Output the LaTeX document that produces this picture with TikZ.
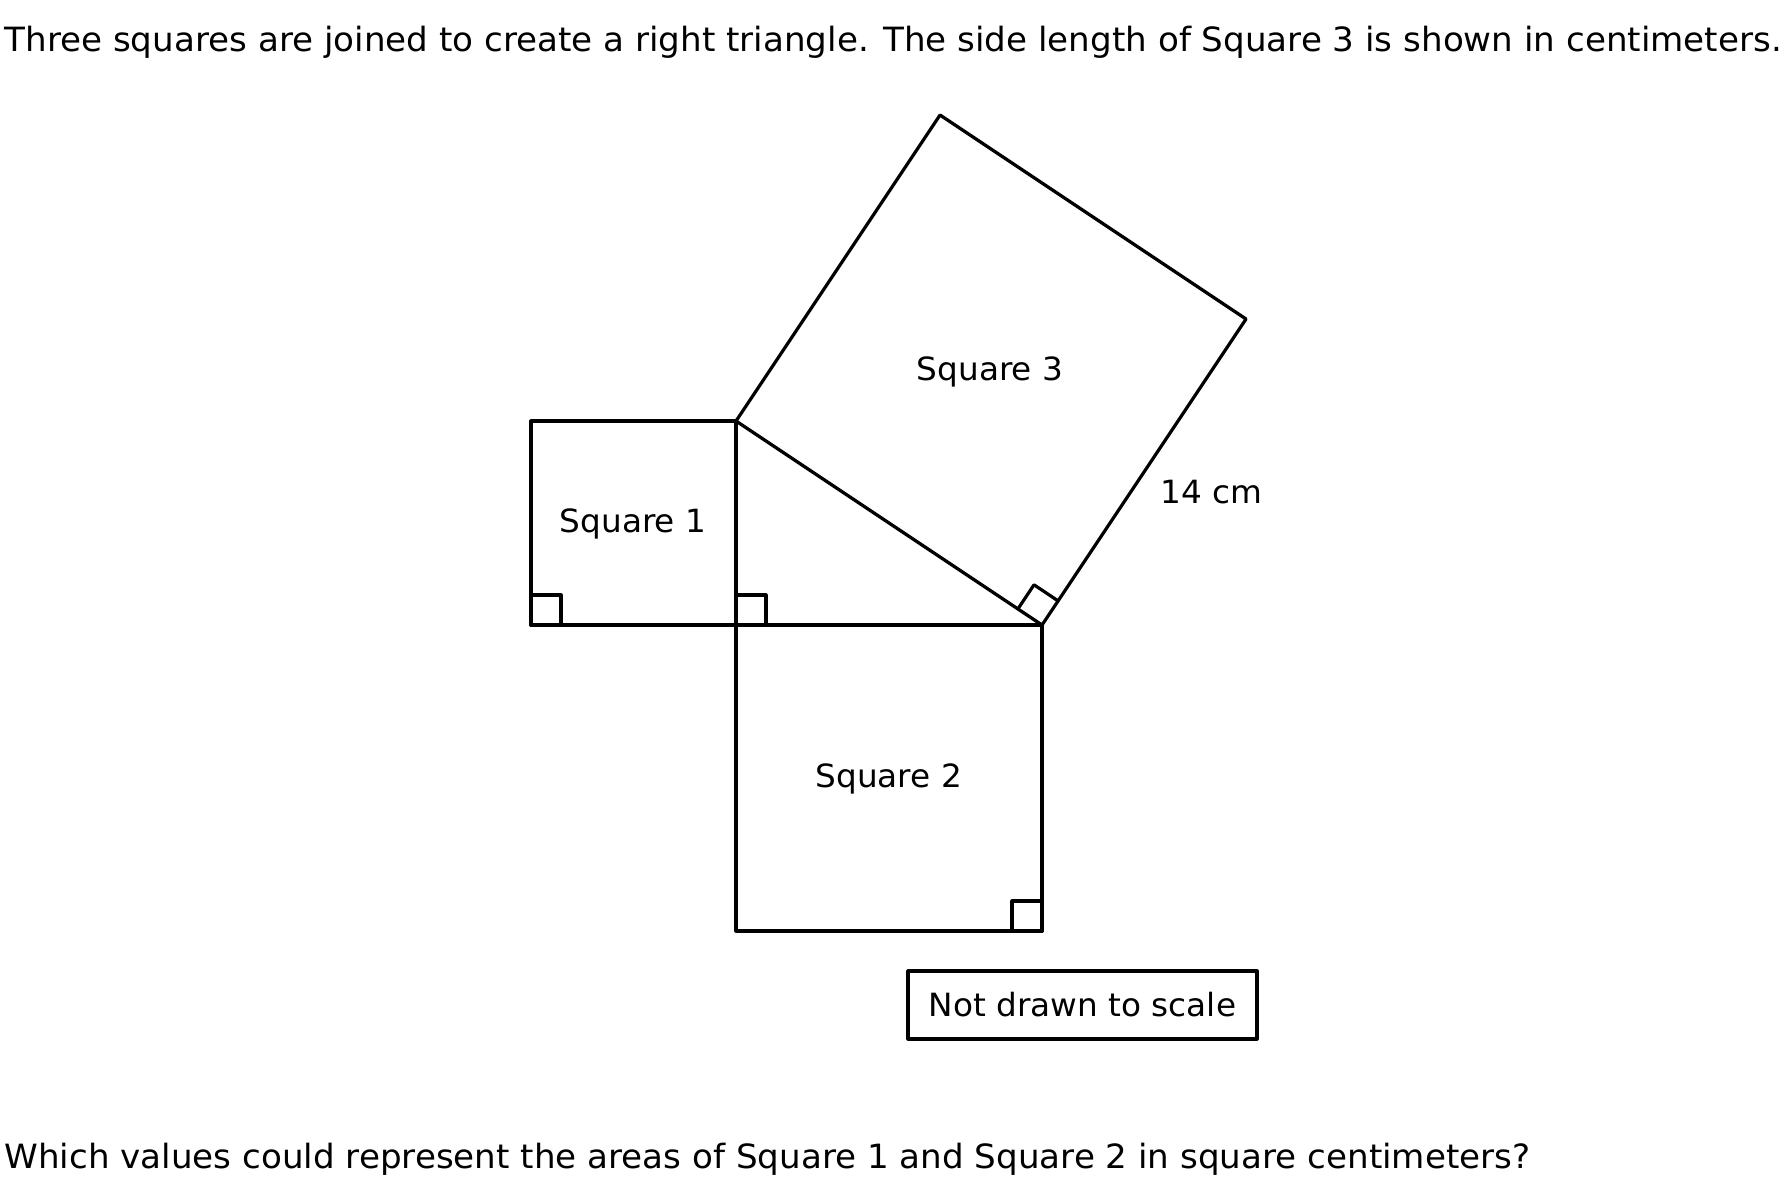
\documentclass[tikz,border=0pt]{standalone}
\usepackage{fontspec}
\setmainfont{DejaVu Sans}[FakeStretch=1.022]
\usetikzlibrary{calc}

\begin{document}
\begin{tikzpicture}[line cap=round,line join=round,x=0.5pt,y=-0.5pt,line width=1.6pt,
  label/.style={font=\fontsize{16}{19}\selectfont},
  textline/.style={font=\fontsize{16.7}{20}\selectfont,anchor=base west,inner sep=0pt}]
\useasboundingbox (0,0) rectangle (1788,1184);
% corners of the triangle
\coordinate (A) at (736,421);
\coordinate (C) at (736,625);
\coordinate (B) at (1042,625);
\coordinate (P) at (531,421);
\coordinate (Q) at (531,625);
\coordinate (D) at (1042,931);
\coordinate (E) at ($(B)+(204,-306)$);
\coordinate (F) at ($(A)+(204,-306)$);
% squares
\draw (P) rectangle (C);
\draw (C) rectangle (D);
\draw (A) -- (B) -- (E) -- (F) -- cycle;
% right angle marks
\draw (Q) rectangle +(30,-30);
\draw (C) rectangle +(30,-30);
\draw (D) rectangle +(-30,-30);
\draw ($(B)+(-24.1,-16.1)$) -- ++(16.1,-24.1) -- ++(24.1,16.1);
% labels
\node[label,anchor=base] (sq1) at (633,532.7) {Square 1};
\node[label,anchor=base] (sq2) at (888.7,787.7) {Square 2};
\node[label,anchor=base] (sq3) at (990,380) {Square 3};
\node[label,anchor=base west,inner sep=0pt] (side) at (1159,503.3) {14 cm};
\node[label,draw,minimum width=174.5pt,minimum height=34pt] (note) at (1082.5,1005) {Not drawn to scale};
\node[textline] (top) at (3,51.7) {Three squares are joined to create a right triangle. The side length of Square 3 is shown in centimeters.};
\node[textline] (bottom) at (3,1168.3) {Which values could represent the areas of Square 1 and Square 2 in square centimeters?};
\end{tikzpicture}
\end{document}
